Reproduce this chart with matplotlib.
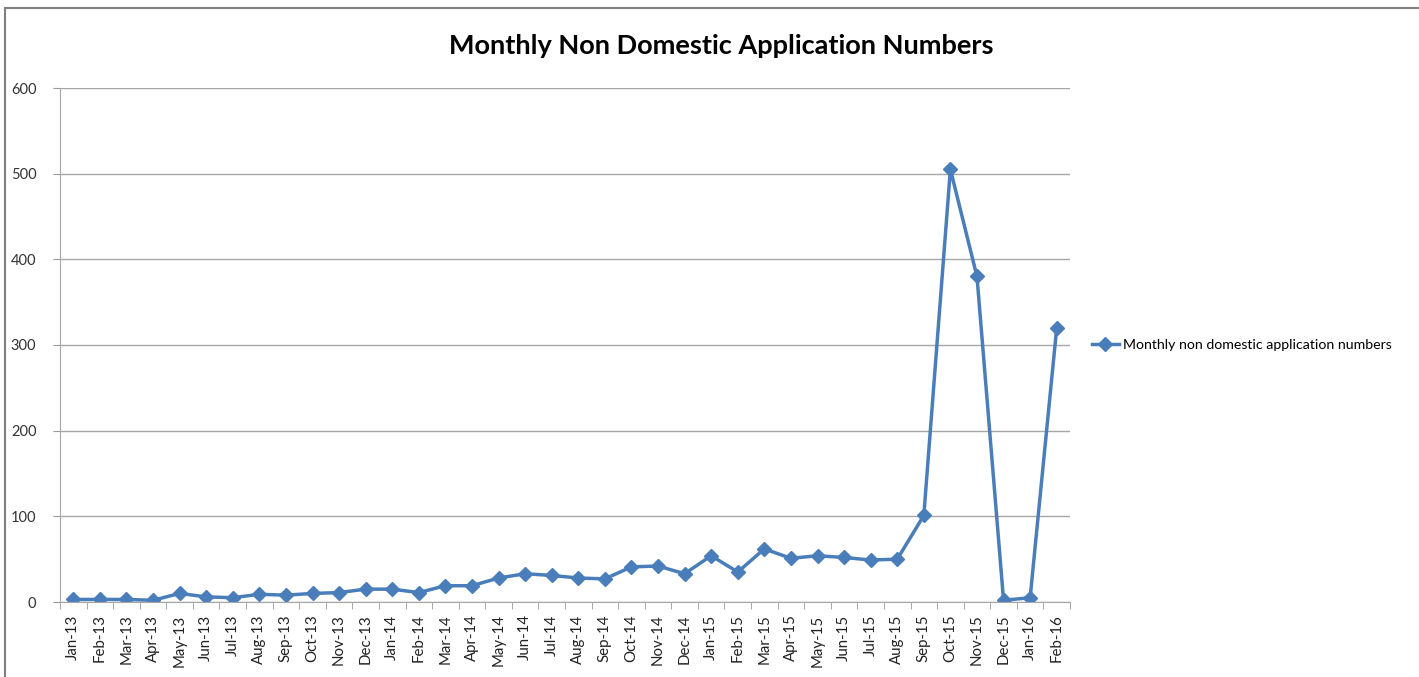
import matplotlib
matplotlib.use("Agg")
import matplotlib.pyplot as plt
from matplotlib.patches import Rectangle
import numpy as np

plt.rcParams['font.family'] = ['Lato', 'DejaVu Sans']

months = ["Jan-13", "Feb-13", "Mar-13", "Apr-13", "May-13", "Jun-13", "Jul-13", "Aug-13",
          "Sep-13", "Oct-13", "Nov-13", "Dec-13", "Jan-14", "Feb-14", "Mar-14", "Apr-14",
          "May-14", "Jun-14", "Jul-14", "Aug-14", "Sep-14", "Oct-14", "Nov-14", "Dec-14",
          "Jan-15", "Feb-15", "Mar-15", "Apr-15", "May-15", "Jun-15", "Jul-15", "Aug-15",
          "Sep-15", "Oct-15", "Nov-15", "Dec-15", "Jan-16", "Feb-16"]
applications = [3, 3, 3, 2, 10, 6, 5, 9, 8, 10, 11, 15, 15, 11, 19, 19,
                28, 33, 31, 28, 27, 41, 42, 33, 54, 35, 62, 51, 54, 52, 49, 50,
                101, 505, 380, 2, 5, 320]
series_name = "Monthly non domestic application numbers"
title = "Monthly Non Domestic Application Numbers"
yticks = [0, 100, 200, 300, 400, 500, 600]

fig = plt.figure(figsize=(14.19, 6.77), dpi=100)
ax = fig.add_axes([60/1419, 1-602/677, 1010/1419, 514/677])

x = np.arange(len(months))
line_color = "#4A7EBB"
ax.plot(x, applications, color=line_color, linewidth=2.5, marker='D', markersize=7.5,
        markerfacecolor=line_color, markeredgecolor=line_color, label=series_name)

ax.set_xlim(-0.5, len(months) - 0.5)
ax.set_ylim(0, 600)
ax.set_yticks(yticks)
ax.set_yticklabels([str(v) for v in yticks], fontsize=10.5, color="#333333")
ax.set_xticks(x)
ax.set_xticklabels(months, rotation=90, fontsize=10.8, color="#222222")
ax.set_xticks(np.arange(-0.5, len(months), 1), minor=True)
ax.tick_params(axis='x', which='major', length=0, pad=9)
ax.tick_params(axis='x', which='minor', length=5, color="#999999")
ax.tick_params(axis='y', length=5, color="#999999", pad=12)

ax.grid(axis='y', color="#A6A6A6", linewidth=1)
ax.set_axisbelow(True)
for s in ['top', 'right']:
    ax.spines[s].set_visible(False)
ax.spines['left'].set_color("#A6A6A6")
ax.spines['bottom'].set_color("#A6A6A6")

fig.text(721/1419, 1-46/677, title, ha='center', va='center', fontsize=19.5, fontweight='bold')

ax.legend(loc='center left', bbox_to_anchor=(1.013, 0.5), frameon=False, fontsize=10.2,
          handlelength=1.9, handletextpad=0.3, borderaxespad=0.2)

fig.patches.append(Rectangle((5/1419, -0.1), 1.2, 1 - 8/677 + 0.1, transform=fig.transFigure,
                             fill=False, edgecolor="#808080", linewidth=1.5))

fig.savefig("out.png", dpi=100)
